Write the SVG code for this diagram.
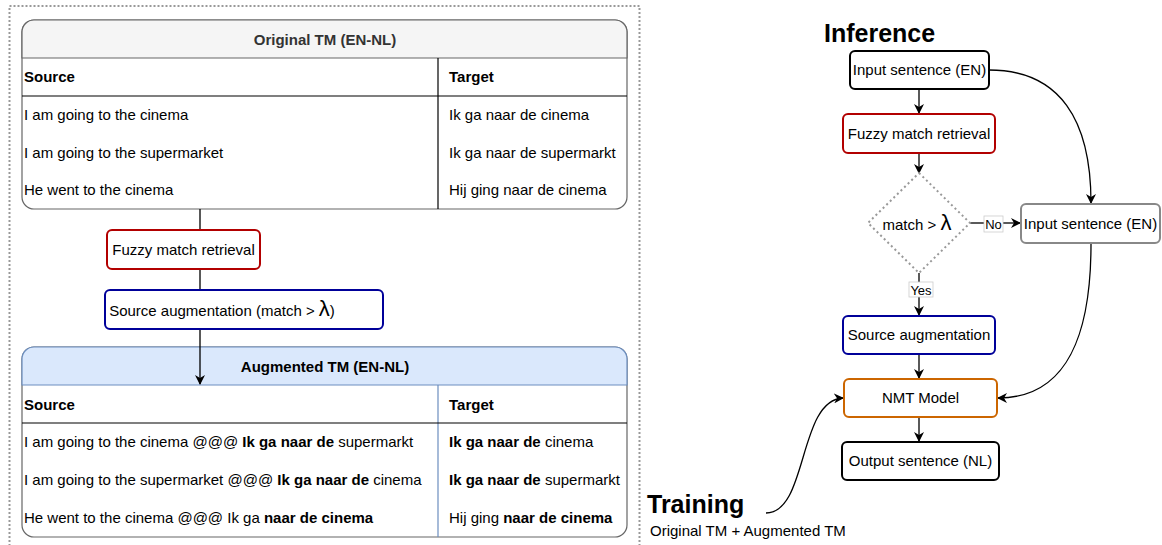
<svg xmlns="http://www.w3.org/2000/svg" width="1162" height="545" viewBox="0 0 1162 545">
<style>
text{font-family:"Liberation Sans",Arial,sans-serif;font-size:15px;fill:#000}
.b{font-weight:bold}
.c{text-anchor:middle}
.big{font-size:25px;font-weight:bold}
.lam{font-size:22px}
.tbl{stroke:#666;stroke-width:1.2;fill:#fff}
.ln{stroke:#000;stroke-width:1.2;fill:none}
.box{fill:#fff;stroke-width:2}
.edge{stroke:#000;stroke-width:1.3;fill:none}
.lbl{fill:#fff;stroke:#ccc;stroke-width:0.8}
.el{font-size:13px}
</style>
<defs>
<marker id="arr" viewBox="0 0 10 10" refX="9" refY="5" markerWidth="10" markerHeight="10" markerUnits="userSpaceOnUse" orient="auto">
<path d="M0,0 L10,5 L0,10 L3,5 Z" fill="#000"/>
</marker>
</defs>
<rect x="9.5" y="6" width="630" height="560" fill="none" stroke="#999" stroke-width="2" stroke-dasharray="2 2"/>

<g id="original-tm">
<rect class="tbl" x="22" y="20" width="605" height="189" rx="12"/>
<path d="M22,58 V32 A12,12 0 0 1 34,20 H615 A12,12 0 0 1 627,32 V58 Z" fill="#f5f5f5" stroke="#666" stroke-width="1.2"/>
<line class="ln" x1="438" y1="58" x2="438" y2="209" stroke="#666"/>
<line class="ln" x1="22" y1="96" x2="627" y2="96"/>
<text class="b c" x="325" y="45" style="fill:#333">Original TM (EN-NL)</text>
<text class="b" x="24" y="82">Source</text>
<text class="b" x="449" y="82">Target</text>
<text x="24" y="120">I am going to the cinema</text>
<text x="24" y="158">I am going to the supermarket</text>
<text x="24" y="195">He went to the cinema</text>
<text x="449" y="120">Ik ga naar de cinema</text>
<text x="449" y="158">Ik ga naar de supermarkt</text>
<text x="449" y="195">Hij ging naar de cinema</text>
</g>

<g id="augmented-tm">
<rect class="tbl" x="22" y="347" width="605" height="190" rx="12" stroke="#6c8ebf"/>
<path d="M22,385 V359 A12,12 0 0 1 34,347 H615 A12,12 0 0 1 627,359 V385 Z" fill="#dae8fc" stroke="#6c8ebf" stroke-width="1.2"/>
<line x1="438" y1="385" x2="438" y2="537" stroke="#6c8ebf" stroke-width="1.2"/>
<line class="ln" x1="22" y1="423" x2="627" y2="423"/>
<text class="b c" x="325" y="372">Augmented TM (EN-NL)</text>
<text class="b" x="24" y="410">Source</text>
<text class="b" x="449" y="410">Target</text>
<text x="24" y="447">I am going to the cinema @@@ <tspan class="b">Ik ga naar de</tspan> supermarkt</text>
<text x="24" y="485">I am going to the supermarket @@@ <tspan class="b">Ik ga naar de</tspan> cinema</text>
<text x="24" y="523">He went to the cinema @@@ Ik ga <tspan class="b">naar de cinema</tspan></text>
<text x="449" y="447"><tspan class="b">Ik ga naar de</tspan> cinema</text>
<text x="449" y="485"><tspan class="b">Ik ga naar de</tspan> supermarkt</text>
<text x="449" y="523">Hij ging <tspan class="b">naar de cinema</tspan></text>
</g>

<g id="connectors">
<path class="edge" d="M200,209 V230 M200,269 V290 M200,329 V384" marker-end="url(#arr)"/>
<path class="edge" d="M919,89 V113" marker-end="url(#arr)"/>
<path class="edge" d="M919,153 V173" marker-end="url(#arr)"/>
<path class="edge" d="M970,223 H984"/>
<path class="edge" d="M1002,223 H1020" marker-end="url(#arr)"/>
<path class="edge" d="M919,273 V282"/>
<path class="edge" d="M919,297 V315" marker-end="url(#arr)"/>
<path class="edge" d="M919,354 V378" marker-end="url(#arr)"/>
<path class="edge" d="M919,417 V441" marker-end="url(#arr)"/>
<path class="edge" d="M989,70 C1060,70 1091,120 1091,203" marker-end="url(#arr)"/>
<path class="edge" d="M1091,244 C1091,330 1070,398 998,398" marker-end="url(#arr)"/>
<path class="edge" d="M766,513 C808,513 798,400 843,398" marker-end="url(#arr)"/>
<rect class="lbl" x="984" y="216" width="19" height="16"/>
<text x="993.5" y="229" class="c el">No</text>
<rect class="lbl" x="909" y="282" width="24" height="15"/>
<text x="921" y="294.5" class="c el">Yes</text>
</g>

<g id="fuzzy-left">
<rect class="box" x="107" y="230" width="153" height="39" rx="5" stroke="#b20000"/>
<text class="c" x="183.5" y="255">Fuzzy match retrieval</text>
</g>
<g id="srcaug-left">
<rect class="box" x="105" y="290" width="278" height="39" rx="5" stroke="#000099"/>
<text class="c" x="222" y="316">Source augmentation (match &gt; <tspan class="lam">λ</tspan>)</text>
</g>

<g id="inference-title"><text class="big" x="824" y="42">Inference</text></g>
<g id="input1">
<rect class="box" x="850" y="51" width="139" height="38" rx="5" stroke="#000" stroke-width="1.2"/>
<text class="c" x="919.5" y="75">Input sentence (EN)</text>
</g>
<g id="fuzzy-right">
<rect class="box" x="843" y="114" width="152" height="39" rx="5" stroke="#b20000"/>
<text class="c" x="919" y="139">Fuzzy match retrieval</text>
</g>
<g id="decision">
<path d="M919,173 L970,223 L919,273 L868,223 Z" fill="#fff" stroke="#999" stroke-width="2" stroke-dasharray="2 3"/>
<text class="c" x="917" y="230">match &gt; <tspan class="lam">λ</tspan></text>
</g>
<g id="input2">
<rect class="box" x="1021" y="204" width="139" height="39" rx="5" stroke="#888" stroke-width="2.5"/>
<text class="c" x="1090.5" y="229">Input sentence (EN)</text>
</g>
<g id="srcaug-right">
<rect class="box" x="843" y="316" width="152" height="38" rx="5" stroke="#000099"/>
<text class="c" x="919" y="340">Source augmentation</text>
</g>
<g id="nmt">
<rect class="box" x="844" y="379" width="153" height="38" rx="5" stroke="#cc6600"/>
<text class="c" x="920.5" y="403">NMT Model</text>
</g>
<g id="output">
<rect class="box" x="842" y="442" width="157" height="38" rx="5" stroke="#000" stroke-width="1.2"/>
<text class="c" x="920.5" y="466">Output sentence (NL)</text>
</g>
<g id="training">
<text class="big" x="647" y="513">Training</text>
<text x="650" y="536">Original TM + Augmented TM</text>
</g>
</svg>
